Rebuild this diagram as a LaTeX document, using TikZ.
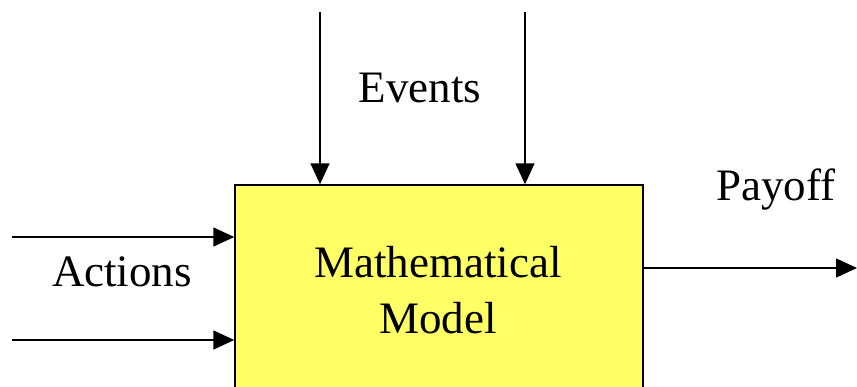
\documentclass[tikz,border=0pt]{standalone}
\usepackage{fontspec}
\setmainfont{Liberation Serif}
\usetikzlibrary{positioning, arrows.meta}

\begin{document}
\begin{tikzpicture}[
    x=1pt, y=-1pt,
    model/.style={rectangle, draw=black, fill={rgb,255:red,255;green,255;blue,102}, line width=1.5pt, minimum width=408pt, minimum height=240pt, inner sep=0pt},
    label/.style={font=\fontsize{45}{56}\selectfont, align=center, inner sep=0pt},
    flow/.style={-{Triangle[length=21pt, width=19pt]}, line width=1.6pt, draw=black}
]
\clip (0,0) rectangle (857,386);
\fill[white] (0,0) rectangle (857,386);
\node[model] (box) at (439,305) {};
\node[label] (title) at (438,290) {Mathematical\\Model};
\node[label] (events) at (420,88) {Events};
\node[label] (payoff) at (776,190) {Payoff};
\node[label] (actions) at (122,272) {Actions};

\coordinate (ev1) at (320,12);
\coordinate (ev2) at (525,12);
\coordinate (ac1) at (12,237);
\coordinate (ac2) at (12,340);
\coordinate (out) at (857,268);

\draw[flow] (ev1) -- (ev1 |- box.north);
\draw[flow] (ev2) -- (ev2 |- box.north);
\draw[flow] (ac1) -- (ac1 -| box.west);
\draw[flow] (ac2) -- (ac2 -| box.west);
\draw[flow] (out -| box.east) -- (out);
\end{tikzpicture}
\end{document}
